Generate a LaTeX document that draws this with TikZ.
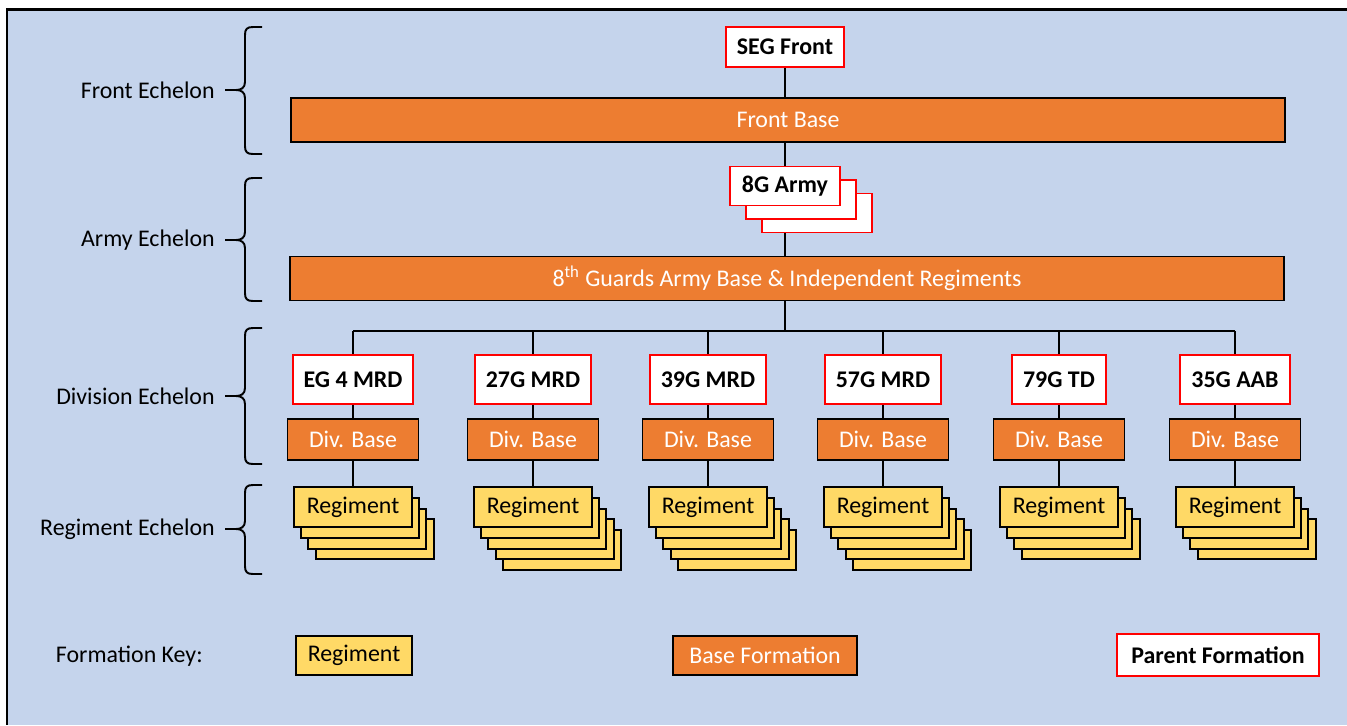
\documentclass[tikz,border=0pt]{standalone}
\usepackage{fontspec}
\setmainfont{Carlito}
\usepackage{tikz}
\usetikzlibrary{positioning}
\definecolor{paneblue}{HTML}{C5D4EC}
\definecolor{baseorg}{HTML}{ED7D31}
\definecolor{regyel}{HTML}{FFD966}
\definecolor{parred}{HTML}{FF0000}

\begin{document}
\begin{tikzpicture}[x=0.02cm, y=-0.02cm, font=\fontsize{13.6}{16}\selectfont,
  parent/.style={draw=parred, line width=1.1pt, fill=white, font=\fontsize{13.6}{16}\selectfont\bfseries,
    inner xsep=0.22cm, minimum height=0.8cm},
  banner/.style={draw=black, line width=1.1pt, fill=baseorg, text=white, minimum width=19.9cm, minimum height=0.88cm},
  divbase/.style={draw=black, line width=1.1pt, fill=baseorg, text=white, minimum width=2.62cm, minimum height=0.82cm},
  regbox/.style={draw=black, line width=1.1pt, fill=regyel, minimum width=2.36cm, minimum height=0.8cm},
  echlabel/.style={inner sep=0pt},
  bracel/.style={line width=1.1pt},
  link/.style={line width=1.1pt}]
\useasboundingbox (0,0) rectangle (1347,725);
% panel with its frame on the top and left only
\fill[white] (0,0) rectangle (1347,725);
\fill[paneblue] (8,10) rectangle (1347,725);
\draw[line width=1.5pt] (1347,9.5) -- (7,9.5) -- (7,725);

% ---- echelon braces in the left margin ----
\foreach \nm/\t/\m/\b/\txt in {front/27/90/154/Front Echelon, army/178/240/301/Army Echelon,
    div/328/396/464/Division Echelon, reg/485/529/574/Regiment Echelon}{
  \draw[bracel] (262,\t) -- (253,\t) .. controls (247,\t) and (245,\t+2) .. (245,\t+8)
    -- (245,\m-8) .. controls (245,\m-2) and (241,\m) .. (236,\m)
    .. controls (241,\m) and (245,\m+2) .. (245,\m+8)
    -- (245,\b-8) .. controls (245,\b-2) and (247,\b) .. (253,\b) -- (262,\b);
  \draw[bracel] (236,\m) -- (225,\m) coordinate (\nm-tip);
  \node[echlabel, left=0.2cm of \nm-tip] (\nm-lbl) {\txt};
}

% ---- front echelon ----
\node[parent] (seg) at (785,47) {SEG Front};
\node[banner] (frontbase) at (788,120) {Front Base};
\draw[link] (seg.south) -- (seg.south |- frontbase.north);

% ---- army echelon ----
\foreach \k in {2,1}{\node[parent, minimum width=2.2cm, minimum height=0.78cm] (army\k) at (785+16*\k,186+13.5*\k) {};}
\node[parent, minimum width=2.2cm, minimum height=0.78cm] (army) at (785,186) {8G Army};
\node[banner] (armybase) at (787,278.5) {8\textsuperscript{th} Guards Army Base \& Independent Regiments};
\draw[link] (seg.south |- frontbase.south) -- (army.north);
\draw[link] (army.south |- army2.south) -- (army.south |- armybase.north);
\coordinate (bus) at (785,331);
\draw[link] (armybase.south -| bus) -- (bus);

% ---- division and regiment echelons ----
\foreach \i/\x/\n/\dname in {1/353/3/EG 4 MRD, 2/533/4/27G MRD, 3/708/4/39G MRD,
    4/883/4/57G MRD, 5/1059/3/79G TD, 6/1235/3/35G AAB}{
  \node[parent, minimum height=0.98cm] (d\i) at (\x,379.5) {\dname};
  \node[divbase] (b\i) at (\x,439.5) {Div. Base};
  \foreach \k in {\n,...,1}{\node[regbox] (r\i-\k) at (\x+7.2*\k,507+10.8*\k) {};}
  \node[regbox] (r\i) at (\x,507) {Regiment};
  \draw[link] (d\i.north |- bus) -- (d\i.north);
  \draw[link] (d\i.south) -- (b\i.north);
  \draw[link] (b\i.south) -- (r\i.north);
}
\draw[link] (d1.north |- bus) -- (d6.north |- bus);

% ---- formation key ----
\node[echlabel, anchor=east] (keylbl) at (203,656) {Formation Key:};
\node[regbox, minimum width=2.32cm, minimum height=0.78cm] (keyreg) at (354,655.5) {Regiment};
\node[divbase, minimum width=3.68cm, minimum height=0.78cm] (keybase) at (765,655.5) {Base Formation};
\node[parent, minimum width=4.04cm, minimum height=0.84cm] (keypar) at (1218,655) {Parent Formation};
\end{tikzpicture}
\end{document}
